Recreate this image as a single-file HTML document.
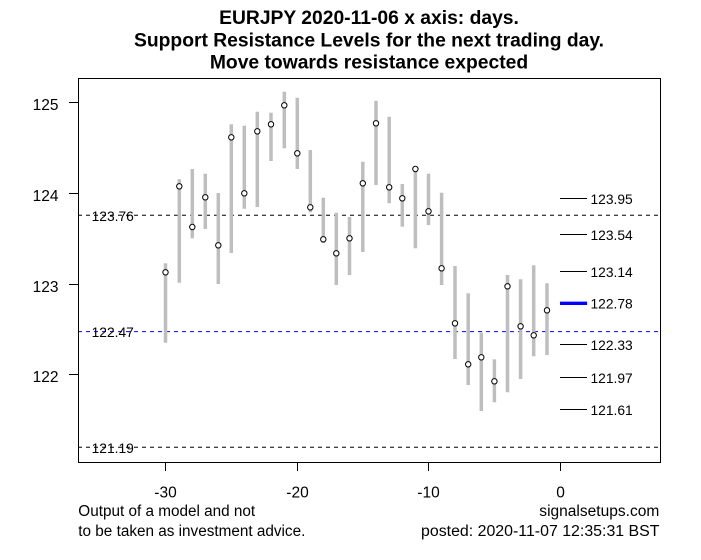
<!DOCTYPE html>
<html>
<head>
<meta charset="utf-8">
<style>
html,body{margin:0;padding:0;background:#fff;}
svg{display:block;}
text{font-family:"Liberation Sans",Arial,sans-serif;fill:#000;}
</style>
</head>
<body>
<svg width="701" height="560" viewBox="0 0 701 560" xmlns="http://www.w3.org/2000/svg">
<rect x="0" y="0" width="701" height="560" fill="#fff"/>
<!-- title -->
<g font-weight="bold" font-size="19.3" text-anchor="middle">
<text x="369" y="24">EURJPY 2020-11-06 x axis: days.</text>
<text x="369" y="46.4">Support Resistance Levels for the next trading day.</text>
<text x="369" y="68.6">Move towards resistance expected</text>
</g>
<!-- dashed lines -->
<g stroke-width="1" stroke-dasharray="4,4" fill="none">
<line x1="78" y1="215.3" x2="660" y2="215.3" stroke="#000"/>
<line x1="78" y1="331.6" x2="660" y2="331.6" stroke="#0000ff"/>
<line x1="78" y1="447.3" x2="660" y2="447.3" stroke="#000"/>
</g>
<g font-size="13.8" text-anchor="middle">
<text x="112.7" y="220.8">123.76</text>
<text x="112.7" y="337.1">122.47</text>
<text x="112.7" y="452.8">121.19</text>
</g>
<!-- bars -->
<g stroke="#bebebe" stroke-width="3.5">
<line x1="165.5" y1="263.3" x2="165.5" y2="342.7"/>
<line x1="179.3" y1="179.3" x2="179.3" y2="282.7"/>
<line x1="192.3" y1="169" x2="192.3" y2="238.3"/>
<line x1="205.3" y1="173.7" x2="205.3" y2="229"/>
<line x1="218.3" y1="193" x2="218.3" y2="284"/>
<line x1="231.3" y1="124.3" x2="231.3" y2="253"/>
<line x1="244.3" y1="125.7" x2="244.3" y2="208.7"/>
<line x1="257.3" y1="111.7" x2="257.3" y2="207"/>
<line x1="271" y1="112.7" x2="271" y2="161"/>
<line x1="284.3" y1="91.7" x2="284.3" y2="148.3"/>
<line x1="297.3" y1="97.7" x2="297.3" y2="169"/>
<line x1="310.3" y1="150" x2="310.3" y2="212.3"/>
<line x1="323.3" y1="197.7" x2="323.3" y2="243"/>
<line x1="336.3" y1="212.7" x2="336.3" y2="285"/>
<line x1="349.5" y1="217" x2="349.5" y2="275"/>
<line x1="362.8" y1="161.7" x2="362.8" y2="252"/>
<line x1="376" y1="100.7" x2="376" y2="185"/>
<line x1="389.2" y1="116.7" x2="389.2" y2="203.3"/>
<line x1="402.3" y1="184" x2="402.3" y2="226.7"/>
<line x1="415.4" y1="166.3" x2="415.4" y2="248.3"/>
<line x1="428.5" y1="173.7" x2="428.5" y2="225"/>
<line x1="441.6" y1="192.7" x2="441.6" y2="285"/>
<line x1="455" y1="266" x2="455" y2="359"/>
<line x1="468.2" y1="293.3" x2="468.2" y2="385"/>
<line x1="481.3" y1="332.7" x2="481.3" y2="411"/>
<line x1="494.4" y1="359.3" x2="494.4" y2="402.3"/>
<line x1="507.5" y1="275" x2="507.5" y2="392.3"/>
<line x1="520.6" y1="279.3" x2="520.6" y2="379"/>
<line x1="533.7" y1="265.3" x2="533.7" y2="356.3"/>
<line x1="547" y1="283.3" x2="547" y2="355"/>
</g>
<!-- points -->
<g stroke="#000" stroke-width="1" fill="#fff">
<circle cx="165.5" cy="272.3" r="2.7"/>
<circle cx="179.3" cy="186.3" r="2.7"/>
<circle cx="192.3" cy="227" r="2.7"/>
<circle cx="205.3" cy="197.3" r="2.7"/>
<circle cx="218.3" cy="245.3" r="2.7"/>
<circle cx="231.3" cy="137.3" r="2.7"/>
<circle cx="244.3" cy="193.3" r="2.7"/>
<circle cx="257.3" cy="131.3" r="2.7"/>
<circle cx="271" cy="124.3" r="2.7"/>
<circle cx="284.3" cy="105.3" r="2.7"/>
<circle cx="297.3" cy="153.3" r="2.7"/>
<circle cx="310.3" cy="207.3" r="2.7"/>
<circle cx="323.3" cy="239.3" r="2.7"/>
<circle cx="336.3" cy="253.3" r="2.7"/>
<circle cx="349.5" cy="238.3" r="2.7"/>
<circle cx="362.8" cy="183.3" r="2.7"/>
<circle cx="376" cy="123.3" r="2.7"/>
<circle cx="389.2" cy="187.3" r="2.7"/>
<circle cx="402.3" cy="198.3" r="2.7"/>
<circle cx="415.4" cy="169" r="2.7"/>
<circle cx="428.5" cy="211.3" r="2.7"/>
<circle cx="441.6" cy="268.3" r="2.7"/>
<circle cx="455" cy="323.3" r="2.7"/>
<circle cx="468.2" cy="364.3" r="2.7"/>
<circle cx="481.3" cy="357.3" r="2.7"/>
<circle cx="494.4" cy="381.3" r="2.7"/>
<circle cx="507.5" cy="286.3" r="2.7"/>
<circle cx="520.6" cy="326.3" r="2.7"/>
<circle cx="533.7" cy="335.3" r="2.7"/>
<circle cx="547" cy="310.3" r="2.7"/>
</g>
<!-- level lines -->
<g stroke="#000" stroke-width="1">
<line x1="560" y1="198.5" x2="587" y2="198.5"/>
<line x1="560" y1="234.5" x2="587" y2="234.5"/>
<line x1="560" y1="271.5" x2="587" y2="271.5"/>
<line x1="560" y1="344.5" x2="587" y2="344.5"/>
<line x1="560" y1="377.5" x2="587" y2="377.5"/>
<line x1="560" y1="409.5" x2="587" y2="409.5"/>
</g>
<line x1="560" y1="303.3" x2="587" y2="303.3" stroke="#0000ff" stroke-width="3.3"/>
<g font-size="13.8">
<text x="590.5" y="203.8">123.95</text>
<text x="590.5" y="239.8">123.54</text>
<text x="590.5" y="276.8">123.14</text>
<text x="590.5" y="308.6">122.78</text>
<text x="590.5" y="349.8">122.33</text>
<text x="590.5" y="382.8">121.97</text>
<text x="590.5" y="414.8">121.61</text>
</g>
<!-- box -->
<rect x="78.5" y="78.5" width="582" height="384" fill="none" stroke="#000" stroke-width="1"/>
<!-- axis ticks -->
<g stroke="#000" stroke-width="1">
<line x1="69" y1="102.5" x2="78" y2="102.5"/>
<line x1="69" y1="193.5" x2="78" y2="193.5"/>
<line x1="69" y1="284.5" x2="78" y2="284.5"/>
<line x1="69" y1="374.5" x2="78" y2="374.5"/>
<line x1="165.5" y1="462" x2="165.5" y2="471"/>
<line x1="297.5" y1="462" x2="297.5" y2="471"/>
<line x1="428.5" y1="462" x2="428.5" y2="471"/>
<line x1="560.5" y1="462" x2="560.5" y2="471"/>
</g>
<g font-size="15.5" text-anchor="end">
<text x="58.5" y="110.2">125</text>
<text x="58.5" y="201.2">124</text>
<text x="58.5" y="292.2">123</text>
<text x="58.5" y="382.2">122</text>
</g>
<g font-size="15.5" text-anchor="middle">
<text x="165.5" y="497.3">-30</text>
<text x="297.5" y="497.3">-20</text>
<text x="428.5" y="497.3">-10</text>
<text x="560.5" y="497.3">0</text>
</g>
<g font-size="15.3">
<text x="78.3" y="516">Output of a model and not</text>
<text x="78.3" y="536">to be taken as investment advice.</text>
</g>
<g font-size="15.3">
<text x="539.3" y="516" textLength="120" lengthAdjust="spacingAndGlyphs">signalsetups.com</text>
<text x="421" y="536" textLength="238.5" lengthAdjust="spacingAndGlyphs">posted: 2020-11-07 12:35:31 BST</text>
</g>
</svg>
</body>
</html>
